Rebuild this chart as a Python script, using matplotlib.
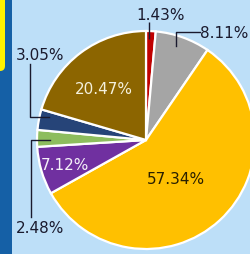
import matplotlib
matplotlib.use("Agg")
import matplotlib.pyplot as plt
from matplotlib.patches import Rectangle, FancyBboxPatch

# Data
labels = ["1.43%", "8.11%", "57.34%", "7.12%", "2.48%", "3.05%", "20.47%"]
values = [1.43, 8.11, 57.34, 7.12, 2.48, 3.05, 20.47]
colors = ["#C00000", "#A5A5A5", "#FFC000", "#7030A0", "#8DBD5E", "#264478", "#8C6500"]

W, H = 250, 255
fig = plt.figure(figsize=(W / 100, H / 100), dpi=100)
fig.patch.set_facecolor("#BDDFF8")
ax = fig.add_axes([0, 0, 1, 1])
ax.set_facecolor("#BDDFF8")

def Y(y):  # image y (from top) -> axes y
    return H - y

# left decorative band
ax.add_patch(Rectangle((-5, -5), 17, H + 10, facecolor="#1560A6", edgecolor="none", zorder=1))
ax.add_patch(FancyBboxPatch((-10, Y(72)), 15, 92, boxstyle="round,pad=0,rounding_size=5",
                            facecolor="#FFF200", edgecolor="none", zorder=2))

# pie
cx, cy, r = 146, Y(141), 109
ax.pie(values, colors=colors, startangle=90, counterclock=False,
       center=(cx, cy), radius=r, frame=True,
       wedgeprops=dict(edgecolor="white", linewidth=1.6))

ax.set_xlim(0, W)
ax.set_ylim(0, H)
ax.set_aspect("equal")
ax.axis("off")

fs = 11
dark = "#1A1A2E"
# inside labels
ax.text(176, Y(180), labels[2], ha="center", va="center", fontsize=fs, color="#2A2000")
ax.text(104, Y(89), labels[6], ha="center", va="center", fontsize=fs, color="#F4F0DC")
ax.text(65, Y(165), labels[3], ha="center", va="center", fontsize=fs, color="#F4F0F8")

# outside labels with leader lines
ax.text(161, Y(16), labels[0], ha="center", va="center", fontsize=fs, color=dark)
ax.plot([149, 149], [Y(23), Y(40)], color=dark, lw=1.0, solid_capstyle="butt")

ax.text(224, Y(34), labels[1], ha="center", va="center", fontsize=fs, color=dark)
ax.plot([200, 176, 176], [Y(33), Y(33), Y(47)], color=dark, lw=1.0)

ax.text(40, Y(56), labels[5], ha="center", va="center", fontsize=fs, color=dark)
ax.plot([30, 30, 49], [Y(65), Y(118), Y(118)], color=dark, lw=1.0)

ax.text(40, Y(229), labels[4], ha="center", va="center", fontsize=fs, color=dark)
ax.plot([31, 31, 50], [Y(218), Y(141), Y(141)], color=dark, lw=1.0)

fig.savefig("out.png", dpi=100, facecolor=fig.get_facecolor())
